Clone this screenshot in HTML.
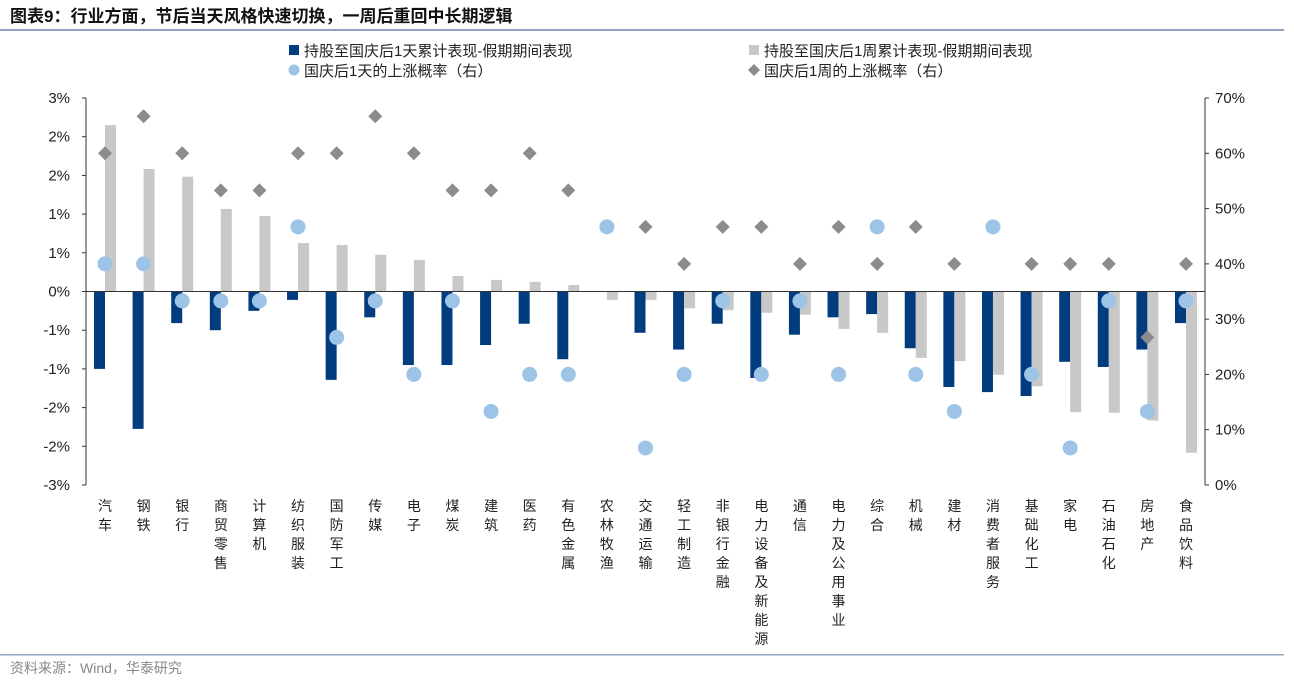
<!DOCTYPE html>
<html><head><meta charset="utf-8"><style>
body{margin:0;background:#fff;width:1294px;height:680px;overflow:hidden;font-family:"Liberation Sans","Noto Sans CJK SC",sans-serif;}
svg text{font-family:"Liberation Sans","Noto Sans CJK SC",sans-serif;}
</style></head><body>
<svg width="1294" height="680">
<text x="10" y="22" font-size="17" font-weight="bold" fill="#111">图表9：行业方面，节后当天风格快速切换，一周后重回中长期逻辑</text>
<rect x="0" y="29" width="1284" height="2" fill="#8fa6c2"/>
<rect x="0" y="654" width="1284" height="1.5" fill="#8fa6c2"/>
<text x="10" y="673" font-size="14" fill="#888">资料来源：Wind，华泰研究</text>
<g font-size="15" fill="#222">
<rect x="289" y="45" width="10" height="10" fill="#003c7e"/>
<text x="304" y="56">持股至国庆后1天累计表现-假期期间表现</text>
<rect x="749" y="45" width="10" height="10" fill="#c8c8c8"/>
<text x="764" y="56">持股至国庆后1周累计表现-假期期间表现</text>
<circle cx="294" cy="70" r="5.5" fill="#9dc3e6"/>
<text x="304" y="76">国庆后1天的上涨概率（右）</text>
<path d="M754 64 L760 70 L754 76 L748 70Z" fill="#8c8c8c"/>
<text x="764" y="76">国庆后1周的上涨概率（右）</text>
</g>
<g id="plot"></g>
</svg>
<script>
const categories=["汽车","钢铁","银行","商贸零售","计算机","纺织服装","国防军工","传媒","电子","煤炭","建筑","医药","有色金属","农林牧渔","交通运输","轻工制造","非银行金融","电力设备及新能源","通信","电力及公用事业","综合","机械","建材","消费者服务","基础化工","家电","石油石化","房地产","食品饮料"];
const day1=[-1.2,-2.13,-0.49,-0.6,-0.3,-0.13,-1.37,-0.4,-1.14,-1.14,-0.83,-0.5,-1.05,0,-0.64,-0.9,-0.5,-1.34,-0.67,-0.4,-0.35,-0.88,-1.48,-1.56,-1.62,-1.09,-1.17,-0.9,-0.49];
const week1=[2.58,1.9,1.78,1.28,1.17,0.75,0.72,0.57,0.49,0.24,0.18,0.15,0.1,-0.13,-0.13,-0.26,-0.29,-0.33,-0.36,-0.58,-0.64,-1.03,-1.08,-1.29,-1.47,-1.87,-1.88,-2.0,-2.5];
const prob1d=[40,40,33.3,33.3,33.3,46.7,26.7,33.3,20,33.3,13.3,20,20,46.7,6.7,20,33.3,20,33.3,20,46.7,20,13.3,46.7,20,6.7,33.3,13.3,33.3];
const prob1w=[60,66.7,60,53.3,53.3,60,60,66.7,60,53.3,53.3,60,53.3,46.7,46.7,40,46.7,46.7,40,46.7,40,46.7,40,46.7,40,40,40,26.7,40];
const leftTicks=["3%","2%","2%","1%","1%","0%","-1%","-1%","-2%","-2%","-3%"];
const rightTicks=["0%","10%","20%","30%","40%","50%","60%","70%"];
(function(){
const NS="http://www.w3.org/2000/svg";
const g=document.getElementById('plot');
const pT=98,pB=485,x0=86,x1=1205;
const yL=v=>pT+(3-v)/6*(pB-pT);
const yR=v=>pB-v/70*(pB-pT);
function el(t,a){const e=document.createElementNS(NS,t);for(const k in a)e.setAttribute(k,a[k]);g.appendChild(e);return e;}
let a=el('line',{x1:x0,y1:pT,x2:x0,y2:pB,stroke:'#333'});


a=el('line',{x1:x1,y1:pT,x2:x1,y2:pB,stroke:'#333'});


leftTicks.forEach((t,i)=>{const y=pT+i*(pB-pT)/10;
 let tk=el('line',{x1:x0-4,y1:y,x2:x0,y2:y,stroke:'#333'});
 
 
 let tx=el('text',{x:70,y:y+5,'font-size':15,'text-anchor':'end',fill:'#222'});tx.textContent=t;
 
 });
rightTicks.forEach((t,i)=>{const y=yR(i*10);
 let tk=el('line',{x1:x1,y1:y,x2:x1+4,y2:y,stroke:'#333'});
 
 
 let tx=el('text',{x:1215,y:y+5,'font-size':15,fill:'#222'});tx.textContent=t;
 
 });
const y0=yL(0);
const n=categories.length;
const step=(1186-105)/(n-1);
const xc=j=>105+j*step;
categories.forEach((c,i)=>{
 const x=xc(i);
 const yd=yL(day1[i]);
 let r=el('rect',{x:x-11,y:Math.min(y0,yd),width:11,height:Math.max(Math.abs(yd-y0),0.5),fill:'#003c7e'});
 
 
 const yw=yL(week1[i]);
 r=el('rect',{x:x,y:Math.min(y0,yw),width:11,height:Math.abs(yw-y0),fill:'#c8c8c8'});
 
 
});
let z=el('line',{x1:x0,y1:y0,x2:x1,y2:y0,stroke:'#333'});


categories.forEach((c,i)=>{
 const x=xc(i);
 const yd=yR(prob1w[i]);
 let d=el('path',{d:`M${x} ${yd-7}L${x+7} ${yd}L${x} ${yd+7}L${x-7} ${yd}Z`,fill:'#8c8c8c'});
 
 
 let ci=el('circle',{cx:x,cy:yR(prob1d[i]),r:7.5,fill:'#9dc3e6'});
 
 
 const t=el('text',{x:x,'font-size':14,'text-anchor':'middle',fill:'#222'});
 
 
 [...c].forEach((ch,q)=>{const s=document.createElementNS(NS,'tspan');s.setAttribute('x',x);s.setAttribute('y',511+q*19);s.textContent=ch;t.appendChild(s);});
});
})();
</script>
</body></html>
